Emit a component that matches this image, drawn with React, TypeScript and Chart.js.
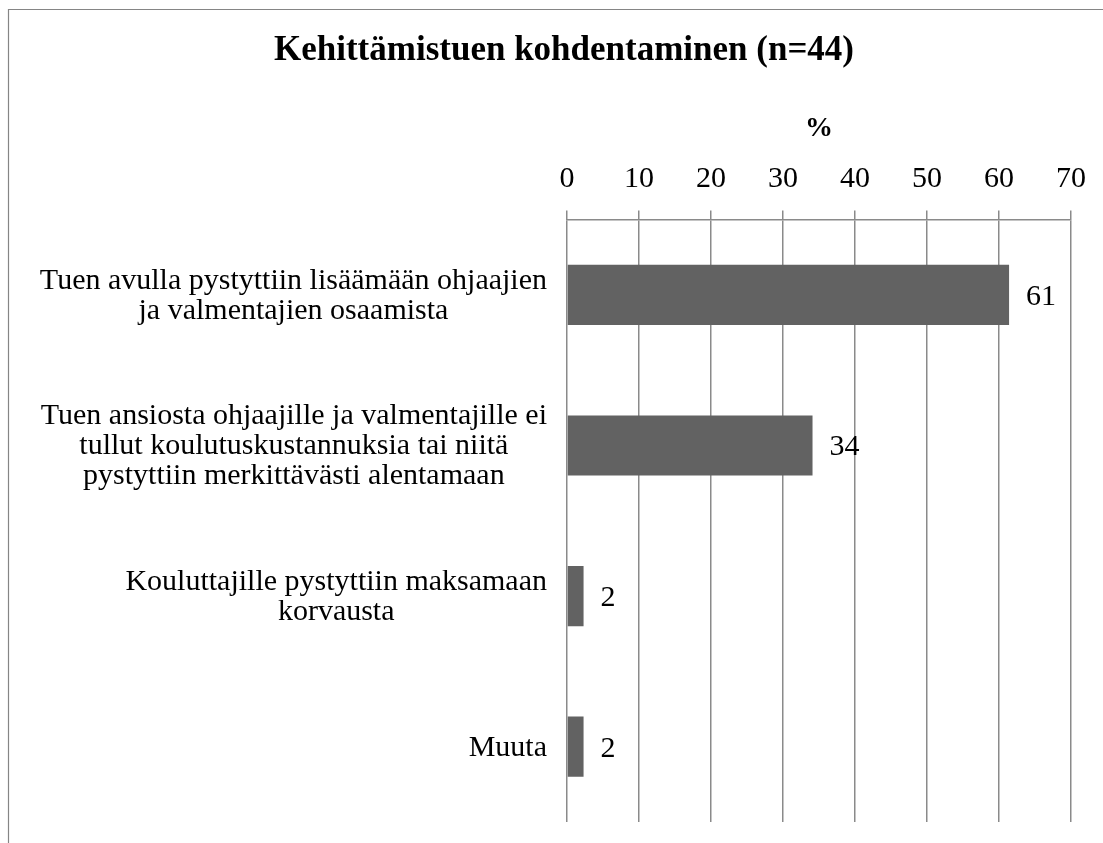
import React, { useEffect, useRef } from "react";
import { Chart, registerables } from "chart.js";

Chart.register(...registerables);

const chartTitle = "Kehittämistuen kohdentaminen (n=44)";
const axisTitle = "%";
const categories: string[][] = [
  ["Tuen avulla pystyttiin lisäämään ohjaajien", "ja valmentajien osaamista"],
  [
    "Tuen ansiosta ohjaajille ja valmentajille ei",
    "tullut koulutuskustannuksia tai niitä",
    "pystyttiin merkittävästi alentamaan",
  ],
  ["Kouluttajille pystyttiin maksamaan", "korvausta"],
  ["Muuta"],
];
const values: number[] = [61.4, 34.1, 2.3, 2.3];
const xMin = 0;
const xMax = 70;
const xStep = 10;

const FONT = '"Liberation Serif", "DejaVu Serif", serif';
const LABEL_SIZE = 30;
const LINE_H = 30;
const GRID = "#8a8a8a";

const drawPlugin = {
  id: "customDraw",
  beforeDraw(chart: any) {
    const { ctx } = chart;
    ctx.save();
    ctx.strokeStyle = "#858585";
    ctx.lineWidth = 1.2;
    ctx.beginPath();
    ctx.moveTo(8.5, 843);
    ctx.lineTo(8.5, 9.5);
    ctx.lineTo(1103, 9.5);
    ctx.stroke();
    ctx.restore();
  },
  afterDraw(chart: any) {
    const { ctx } = chart;
    const yScale = chart.scales.y;
    const xScale = chart.scales.x;
    ctx.save();
    ctx.font = `${LABEL_SIZE}px ${FONT}`;
    ctx.fillStyle = "#000";
    ctx.textBaseline = "middle";
    categories.forEach((lines, i) => {
      const cy = yScale.getPixelForValue(i) + 1;
      const widths = lines.map((l) => ctx.measureText(l).width);
      const maxW = Math.max(...widths);
      const right = xScale.left - 20;
      const cx = right - maxW / 2;
      ctx.textAlign = "center";
      lines.forEach((l, j) => {
        const ly = cy + (j - (lines.length - 1) / 2) * LINE_H;
        ctx.fillText(l, cx, ly);
      });
    });
    const meta = chart.getDatasetMeta(0);
    meta.data.forEach((bar: any, i: number) => {
      ctx.textAlign = "left";
      ctx.fillText(String(Math.round(values[i])), bar.x + 17, bar.y + 2);
    });
    ctx.restore();
  },
};

export default function App() {
  const ref = useRef<HTMLCanvasElement | null>(null);
  useEffect(() => {
    document.body.style.margin = "0";
    if (!ref.current) return;
    const chart = new Chart(ref.current, {
      type: "bar",
      data: {
        labels: categories,
        datasets: [
          {
            data: values,
            backgroundColor: "#626262",
            borderWidth: 0,
            barPercentage: 0.4,
            categoryPercentage: 1,
          },
        ],
      },
      options: {
        indexAxis: "y",
        responsive: false,
        animation: false,
        layout: { padding: { left: 57, right: 32, top: 10, bottom: 21 } },
        plugins: {
          legend: { display: false },
          tooltip: { enabled: false },
          title: {
            display: true,
            text: chartTitle,
            color: "#000",
            font: { family: FONT, size: 35, weight: "bold", lineHeight: 1.2 },
            padding: { top: 20, bottom: 38 },
          },
        },
        scales: {
          x: {
            position: "top",
            min: xMin,
            max: xMax,
            ticks: {
              stepSize: xStep,
              color: "#000",
              padding: 13,
              font: { family: FONT, size: LABEL_SIZE, lineHeight: 1.2 },
            },
            grid: { color: GRID, lineWidth: 1.5, tickLength: 9, drawTicks: true },
            border: { display: true, color: GRID, width: 1.5 },
            title: {
              display: true,
              text: axisTitle,
              color: "#000",
              font: { family: FONT, size: 28, weight: "bold", lineHeight: 1.2 },
              padding: { top: 2, bottom: 3 },
            },
          },
          y: {
            ticks: { display: false },
            grid: { display: false },
            border: { display: false },
            afterFit: (scale: any) => {
              scale.width = 510;
            },
          },
        },
      },
      plugins: [drawPlugin],
    });
    return () => chart.destroy();
  }, []);
  return <canvas ref={ref} width={1103} height={843} style={{ display: "block" }} />;
}
